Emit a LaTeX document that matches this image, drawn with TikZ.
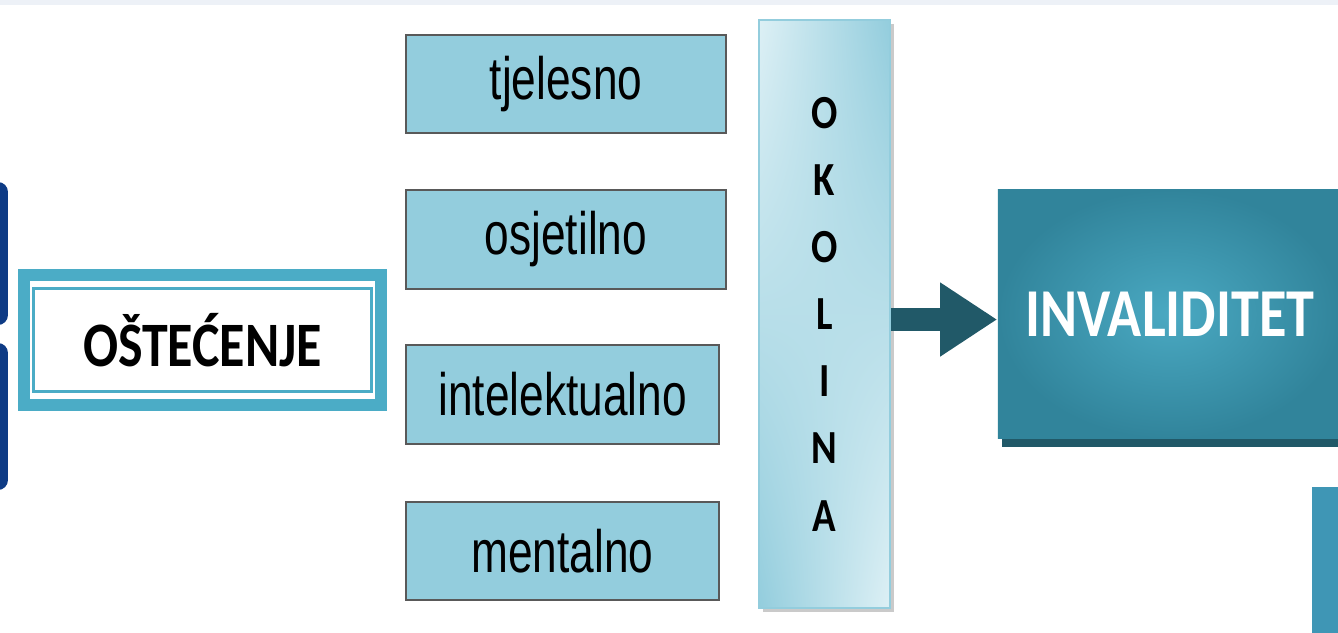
\documentclass[tikz,border=0pt]{standalone}
\usepackage{fontspec}
\setmainfont{Liberation Sans}
\newfontfamily\partfont{Liberation Sans}[FakeStretch=0.74]
\newfontfamily\capfont{Carlito}[FakeStretch=0.82]
\usetikzlibrary{arrows.meta,shadings,shadows}
\definecolor{navy}{HTML}{0E3B85}
\definecolor{aqua}{HTML}{4BACC6}
\definecolor{aqualight}{HTML}{93CDDD}
\definecolor{aquapale}{HTML}{DDF0F5}
\definecolor{invteal}{HTML}{31849B}
\definecolor{invlight}{HTML}{4AA9C2}
\definecolor{invdark}{HTML}{215968}
\definecolor{topband}{HTML}{EDF1F7}
\definecolor{sidebar}{HTML}{3F96B5}
\tikzset{
  damagebox/.style={draw=aqua, line width=0.12cm, fill=white, minimum width=3.57cm,
    minimum height=1.30cm, inner sep=0pt, font=\capfont\bfseries\fontsize{18}{20}\selectfont},
  partbox/.style={draw=black!65, line width=0.02cm, fill=aqualight, minimum height=0.98cm,
    inner sep=0pt, font=\partfont\fontsize{17}{20}\selectfont},
  envbox/.style={draw=aqualight, line width=0.02cm, shade, upper left=aquapale,
    upper right=aqualight, lower left=aqualight, lower right=aquapale,
    minimum width=1.31cm, minimum height=5.88cm, inner sep=0pt, align=center,
    drop shadow={shadow xshift=0.04cm, shadow yshift=-0.04cm, opacity=0.35, fill=black!60},
    font=\capfont\bfseries\fontsize{13.5}{19.1}\selectfont},
  resultbox/.style={inner color=invlight, outer color=invteal, minimum width=3.44cm,
    minimum height=2.49cm, inner sep=0pt, text=white,
    drop shadow={shadow xshift=0.04cm, shadow yshift=-0.08cm, opacity=1, fill=invdark},
    font=\capfont\bfseries\fontsize{19.5}{22}\selectfont},
  flow/.style={invdark, line width=0.23cm, -{Triangle[length=0.57cm,width=0.7cm]}}
}
\begin{document}
\begin{tikzpicture}[x=0.01cm, y=-0.01cm]
  \useasboundingbox (0,0) rectangle (1338,632);
  \clip (0,0) rectangle (1338,632);
  \fill[topband] (0,0) rectangle (1338,5);
  \fill[navy, rounded corners=0.1cm] (-40,182) rectangle (8,325);
  \fill[navy, rounded corners=0.1cm] (-40,343) rectangle (8,490);
  \fill[sidebar] (1312,487) rectangle (1350,640);
  \draw
    (202.5,340) node[damagebox] (ost){OŠTEĆENJE}
    (566,84) node[partbox, minimum width=3.2cm] (tje){tjelesno}
    (566,239.5) node[partbox, minimum width=3.2cm] (osj){osjetilno}
    (562.5,394.5) node[partbox, minimum width=3.13cm] (int){intelektualno}
    (562.5,551) node[partbox, minimum width=3.13cm] (men){mentalno}
    (824.5,314) node[envbox] (oko){O\\K\\O\\L\\I\\N\\A}
    (1170,314) node[resultbox] (inv){INVALIDITET};
  \draw[aqua, line width=0.03cm] ([xshift=0.16cm, yshift=-0.2cm]ost.north west)
    rectangle ([xshift=-0.16cm, yshift=0.2cm]ost.south east);
  \begin{scope}[flow]
    \draw ([yshift=-0.055cm]oko.east) to ([yshift=-0.055cm]inv.west);
  \end{scope}
\end{tikzpicture}
\end{document}
